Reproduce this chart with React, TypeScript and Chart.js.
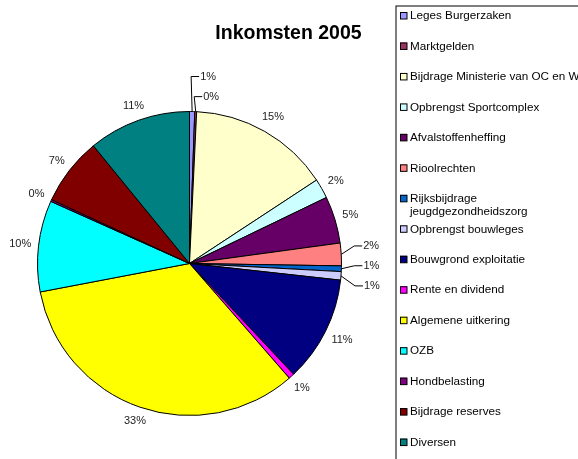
import React, { useEffect, useRef } from "react";
import { Chart, registerables } from "chart.js";

Chart.register(...registerables);

const TITLE = "Inkomsten 2005";

const categories: (string | string[])[] = [
  "Leges Burgerzaken",
  "Marktgelden",
  "Bijdrage Ministerie van OC en W",
  "Opbrengst Sportcomplex",
  "Afvalstoffenheffing",
  "Rioolrechten",
  ["Rijksbijdrage", "jeugdgezondheidszorg"],
  "Opbrengst bouwleges",
  "Bouwgrond exploitatie",
  "Rente en dividend",
  "Algemene uitkering",
  "OZB",
  "Hondbelasting",
  "Bijdrage reserves",
  "Diversen",
];

const values = [0.55, 0.2, 15.0, 2.1, 5.0, 2.4, 0.6, 0.9, 11.25, 0.6, 33.4, 9.7, 0.2, 7.2, 10.9];

const colors = [
  "#9999FF",
  "#993366",
  "#FFFFCC",
  "#CCFFFF",
  "#660066",
  "#FF8080",
  "#0066CC",
  "#CCCCFF",
  "#000080",
  "#FF00FF",
  "#FFFF00",
  "#00FFFF",
  "#800080",
  "#800000",
  "#008080",
];

const FONT = "'Liberation Sans', Arial, sans-serif";

// callout label offsets (relative to slice edge midpoint) for the small slices
const callouts: Record<number, { dx: number; dy: number }> = {
  0: { dx: 8, dy: -35 },
  1: { dx: 7.5, dy: -15 },
  5: { dx: 22, dy: -8.5 },
  6: { dx: 22, dy: -3 },
  7: { dx: 23, dy: 10 },
};

const labelPlugin = {
  id: "excelLabels",
  afterDatasetsDraw(chart: any) {
    const ctx = chart.ctx as CanvasRenderingContext2D;
    const meta = chart.getDatasetMeta(0);
    const data = chart.data.datasets[0].data as number[];
    const total = data.reduce((a, b) => a + b, 0);
    ctx.save();
    ctx.font = `11px ${FONT}`;
    ctx.fillStyle = "#222";
    ctx.strokeStyle = "#000";
    ctx.lineWidth = 1;
    meta.data.forEach((arc: any, i: number) => {
      const { x, y, startAngle, endAngle, outerRadius } = arc.getProps(
        ["x", "y", "startAngle", "endAngle", "outerRadius"],
        true
      );
      const mid = (startAngle + endAngle) / 2;
      const cos = Math.cos(mid);
      const sin = Math.sin(mid);
      const text = Math.round((data[i] / total) * 100) + "%";
      const ex = x + cos * outerRadius;
      const ey = y + sin * outerRadius;
      const co = callouts[i];
      if (co) {
        const ax = ex + co.dx;
        const ay = ey + co.dy;
        ctx.beginPath();
        ctx.moveTo(ex, ey);
        ctx.lineTo(ax - 9, ay);
        ctx.lineTo(ax - 1, ay);
        ctx.stroke();
        ctx.textAlign = "left";
        ctx.textBaseline = "middle";
        ctx.fillText(text, ax, ay);
      } else {
        const w = ctx.measureText(text).width;
        const hw = w / 2;
        const hh = 4.5;
        const d = outerRadius + 7 + hw * Math.abs(cos) + hh * Math.abs(sin);
        ctx.textAlign = "center";
        ctx.textBaseline = "middle";
        ctx.fillText(text, x + cos * d, y + sin * d);
      }
    });
    ctx.restore();
  },
};

const decorPlugin = {
  id: "excelDecor",
  afterDraw(chart: any) {
    const ctx = chart.ctx as CanvasRenderingContext2D;
    ctx.save();
    // title
    ctx.font = `bold 19.5px ${FONT}`;
    ctx.fillStyle = "#000";
    ctx.textAlign = "center";
    ctx.textBaseline = "alphabetic";
    ctx.fillText(TITLE, 288.5, 38.5);

    // legend box
    ctx.strokeStyle = "#000";
    ctx.lineWidth = 1;
    ctx.strokeRect(396, 6, 400, 600);

    const labels = chart.data.labels as (string | string[])[];
    const bg = chart.data.datasets[0].backgroundColor as string[];
    ctx.font = `11.7px ${FONT}`;
    ctx.textAlign = "left";
    ctx.textBaseline = "middle";
    labels.forEach((lab, i) => {
      const cy = 15.5 + i * 30.47;
      ctx.fillStyle = bg[i];
      ctx.fillRect(400, cy - 3.5, 7, 7);
      ctx.strokeStyle = "#000";
      ctx.strokeRect(400.5, cy - 3, 6.5, 6.5);
      ctx.fillStyle = "#000";
      const lines = Array.isArray(lab) ? lab : [lab];
      lines.forEach((ln, k) => {
        ctx.fillText(ln, 410, cy + 0.5 + k * 13);
      });
    });
    ctx.restore();
  },
};

export default function App() {
  const ref = useRef<HTMLCanvasElement>(null);
  useEffect(() => {
    const chart = new Chart(ref.current!, {
      type: "pie",
      data: {
        labels: categories,
        datasets: [
          {
            data: values,
            backgroundColor: colors,
            borderColor: "#000",
            borderWidth: 1,
          },
        ],
      },
      options: {
        responsive: false,
        animation: false,
        events: [],
        layout: { padding: { left: 37, top: 111, right: 236, bottom: 43 } },
        plugins: {
          legend: { display: false },
          title: { display: false },
          tooltip: { enabled: false },
        },
      },
      plugins: [labelPlugin, decorPlugin],
    });
    return () => chart.destroy();
  }, []);
  return (
    <div style={{ position: "fixed", left: 0, top: 0, width: 578, height: 459, background: "#fff" }}>
      <canvas ref={ref} width={578} height={459} style={{ display: "block" }} />
    </div>
  );
}
